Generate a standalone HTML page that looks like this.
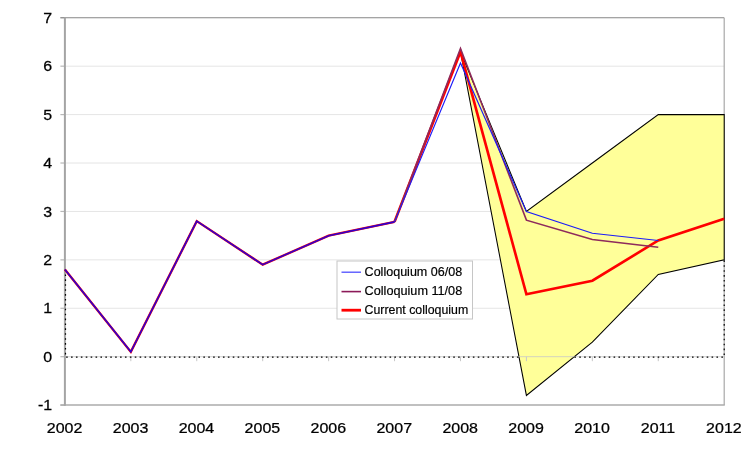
<!DOCTYPE html>
<html><head><meta charset="utf-8"><title>Chart</title>
<style>
html,body{margin:0;padding:0;background:#fff;}
body{width:756px;height:454px;position:relative;overflow:hidden;}
text{font-family:"Liberation Sans",Arial,sans-serif;fill:#000;}
.ax{font-size:14.9px;stroke:#000;stroke-width:0.25px;}
.lg{font-size:13.3px;stroke:#000;stroke-width:0.2px;}
</style></head><body>
<svg width="756" height="454" viewBox="0 0 756 454" style="position:absolute;left:0;top:0">
<rect width="756" height="454" fill="#fff"/>
<line x1="60.40" y1="405.12" x2="64.90" y2="405.12" stroke="#b8b8b8" stroke-width="1.2"/>
<line x1="60.40" y1="356.70" x2="64.90" y2="356.70" stroke="#b8b8b8" stroke-width="1.2"/>
<line x1="60.40" y1="308.28" x2="64.90" y2="308.28" stroke="#b8b8b8" stroke-width="1.2"/>
<line x1="60.40" y1="259.86" x2="64.90" y2="259.86" stroke="#b8b8b8" stroke-width="1.2"/>
<line x1="60.40" y1="211.44" x2="64.90" y2="211.44" stroke="#b8b8b8" stroke-width="1.2"/>
<line x1="60.40" y1="163.02" x2="64.90" y2="163.02" stroke="#b8b8b8" stroke-width="1.2"/>
<line x1="60.40" y1="114.60" x2="64.90" y2="114.60" stroke="#b8b8b8" stroke-width="1.2"/>
<line x1="60.40" y1="66.18" x2="64.90" y2="66.18" stroke="#b8b8b8" stroke-width="1.2"/>
<line x1="60.40" y1="17.76" x2="64.90" y2="17.76" stroke="#b8b8b8" stroke-width="1.2"/>
<line x1="64.90" y1="308.28" x2="724.20" y2="308.28" stroke="#e5e5e5" stroke-width="1"/>
<line x1="64.90" y1="259.86" x2="724.20" y2="259.86" stroke="#e5e5e5" stroke-width="1"/>
<line x1="64.90" y1="211.44" x2="724.20" y2="211.44" stroke="#e5e5e5" stroke-width="1"/>
<line x1="64.90" y1="163.02" x2="724.20" y2="163.02" stroke="#e5e5e5" stroke-width="1"/>
<line x1="64.90" y1="114.60" x2="724.20" y2="114.60" stroke="#e5e5e5" stroke-width="1"/>
<line x1="64.90" y1="66.18" x2="724.20" y2="66.18" stroke="#e5e5e5" stroke-width="1"/>
<line x1="60.40" y1="17.76" x2="724.20" y2="17.76" stroke="#868686" stroke-width="1.2"/>
<line x1="724.20" y1="17.76" x2="724.20" y2="405.12" stroke="#a8a8a8" stroke-width="1.2"/>
<line x1="60.40" y1="405.12" x2="724.80" y2="405.12" stroke="#ababab" stroke-width="1.5"/>
<polygon points="460.48,51.65 526.41,211.44 592.34,163.02 658.27,114.60 724.20,114.60 724.20,259.86 658.27,274.39 592.34,342.17 526.41,395.44 460.48,51.65" fill="#ffff99" stroke="#000" stroke-width="1.05" stroke-linejoin="miter"/>
<line x1="64.90" y1="356.70" x2="724.20" y2="356.70" stroke="#c8c8c8" stroke-width="1" opacity="0.8"/>
<line x1="130.83" y1="356.70" x2="130.83" y2="361.20" stroke="#c8c8c8" stroke-width="1"/>
<line x1="196.76" y1="356.70" x2="196.76" y2="361.20" stroke="#c8c8c8" stroke-width="1"/>
<line x1="262.69" y1="356.70" x2="262.69" y2="361.20" stroke="#c8c8c8" stroke-width="1"/>
<line x1="328.62" y1="356.70" x2="328.62" y2="361.20" stroke="#c8c8c8" stroke-width="1"/>
<line x1="394.55" y1="356.70" x2="394.55" y2="361.20" stroke="#c8c8c8" stroke-width="1"/>
<line x1="460.48" y1="356.70" x2="460.48" y2="361.20" stroke="#c8c8c8" stroke-width="1"/>
<line x1="526.41" y1="356.70" x2="526.41" y2="361.20" stroke="#c8c8c8" stroke-width="1"/>
<line x1="592.34" y1="356.70" x2="592.34" y2="361.20" stroke="#c8c8c8" stroke-width="1"/>
<line x1="658.27" y1="356.70" x2="658.27" y2="361.20" stroke="#c8c8c8" stroke-width="1"/>
<line x1="64.90" y1="17.26" x2="64.90" y2="405.82" stroke="#a4a4a4" stroke-width="2"/>
<polyline points="65.50,269.54 65.50,357.10 518.98,357.10" fill="none" stroke="#000" stroke-width="1.2" stroke-dasharray="1.6 3.3"/>
<polyline points="574.36,357.10 724.20,357.10 724.20,259.86" fill="none" stroke="#000" stroke-width="1.2" stroke-dasharray="1.6 3.3"/>
<polyline points="394.55,221.85 460.48,51.65 526.41,294.24 592.34,280.68 658.27,240.49 724.20,218.70" fill="none" stroke="#ff0000" stroke-width="2.65" stroke-linejoin="miter"/>
<polyline points="64.90,269.54 130.83,351.86 196.76,221.12 262.69,264.70 328.62,235.65 394.55,221.85" fill="none" stroke="#ff0000" stroke-width="2.35" stroke-linejoin="miter"/>
<polyline points="394.55,221.85 460.48,48.51 526.41,220.16 592.34,239.52 658.27,247.27" fill="none" stroke="#8e2a5c" stroke-width="1.6" stroke-linejoin="miter"/>
<polyline points="394.55,221.85 460.48,63.03 526.41,211.44 592.34,233.23 658.27,240.49" fill="none" stroke="#1c1cf8" stroke-width="1.15" stroke-linejoin="miter"/>
<polyline points="64.90,269.54 130.83,351.86 196.76,221.12 262.69,264.70 328.62,235.65 394.55,221.85" fill="none" stroke="#3000cc" stroke-width="1.6" stroke-linejoin="miter"/>
<text transform="translate(52.2,410.32) scale(1.07,1)" text-anchor="end" class="ax">-1</text>
<text transform="translate(52.2,361.90) scale(1.07,1)" text-anchor="end" class="ax">0</text>
<text transform="translate(52.2,313.48) scale(1.07,1)" text-anchor="end" class="ax">1</text>
<text transform="translate(52.2,265.06) scale(1.07,1)" text-anchor="end" class="ax">2</text>
<text transform="translate(52.2,216.64) scale(1.07,1)" text-anchor="end" class="ax">3</text>
<text transform="translate(52.2,168.22) scale(1.07,1)" text-anchor="end" class="ax">4</text>
<text transform="translate(52.2,119.80) scale(1.07,1)" text-anchor="end" class="ax">5</text>
<text transform="translate(52.2,71.38) scale(1.07,1)" text-anchor="end" class="ax">6</text>
<text transform="translate(52.2,22.96) scale(1.07,1)" text-anchor="end" class="ax">7</text>
<text transform="translate(64.60,432.9) scale(1.075,1)" text-anchor="middle" class="ax">2002</text>
<text transform="translate(130.53,432.9) scale(1.075,1)" text-anchor="middle" class="ax">2003</text>
<text transform="translate(196.46,432.9) scale(1.075,1)" text-anchor="middle" class="ax">2004</text>
<text transform="translate(262.39,432.9) scale(1.075,1)" text-anchor="middle" class="ax">2005</text>
<text transform="translate(328.32,432.9) scale(1.075,1)" text-anchor="middle" class="ax">2006</text>
<text transform="translate(394.25,432.9) scale(1.075,1)" text-anchor="middle" class="ax">2007</text>
<text transform="translate(460.18,432.9) scale(1.075,1)" text-anchor="middle" class="ax">2008</text>
<text transform="translate(526.11,432.9) scale(1.075,1)" text-anchor="middle" class="ax">2009</text>
<text transform="translate(592.04,432.9) scale(1.075,1)" text-anchor="middle" class="ax">2010</text>
<text transform="translate(657.97,432.9) scale(1.075,1)" text-anchor="middle" class="ax">2011</text>
<text transform="translate(723.90,432.9) scale(1.075,1)" text-anchor="middle" class="ax">2012</text>
<rect x="337" y="261" width="135.5" height="58" fill="#fff" stroke="#c6c6c6" stroke-width="1"/>
<line x1="341.5" y1="272.2" x2="361" y2="272.2" stroke="#4d4dff" stroke-width="1.3"/>
<line x1="341.5" y1="291.6" x2="361" y2="291.6" stroke="#8c1a59" stroke-width="1.6"/>
<line x1="341.5" y1="310.2" x2="361" y2="310.2" stroke="#ff0000" stroke-width="2.8"/>
<text x="364.6" y="276.2" class="lg" textLength="97.6" lengthAdjust="spacingAndGlyphs">Colloquium 06/08</text>
<text x="364.6" y="295.2" class="lg" textLength="97.6" lengthAdjust="spacingAndGlyphs">Colloquium 11/08</text>
<text x="364.6" y="314.0" class="lg" textLength="103.6" lengthAdjust="spacingAndGlyphs">Current colloquium</text>
</svg>
</body></html>
